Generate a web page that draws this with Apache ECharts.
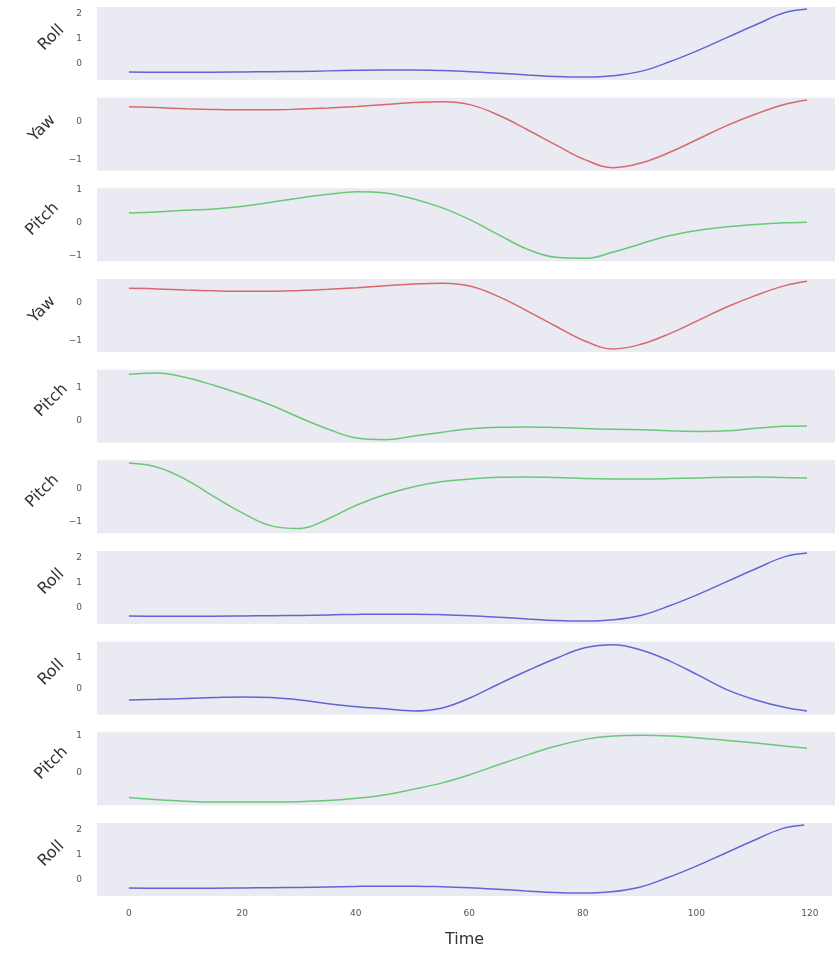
<!DOCTYPE html>
<html>
<head>
<meta charset="utf-8">
<script src="https://cdn.jsdelivr.net/npm/echarts@6/dist/echarts.min.js"></script>
<style>
  html, body { margin: 0; padding: 0; background: #fff; }
  #chart { width: 835px; height: 953px; }
</style>
</head>
<body>
<div id="chart"></div>
<script>
// sample times (x axis)
var time = [0, 5, 10, 15, 20, 25, 30, 35, 40, 45, 50, 55, 60, 65, 70, 75, 80, 85, 90, 95, 100, 105, 110, 115, 119];

// signals
var rollA = [-0.31, -0.32, -0.32, -0.32, -0.31, -0.30, -0.29, -0.27, -0.25, -0.24, -0.24, -0.26, -0.30, -0.36, -0.43, -0.49, -0.51, -0.46, -0.28, 0.10, 0.55, 1.05, 1.55, 2.02, 2.17];
var yawA = [0.39, 0.37, 0.34, 0.32, 0.31, 0.31, 0.33, 0.36, 0.40, 0.45, 0.50, 0.52, 0.44, 0.16, -0.22, -0.62, -1.00, -1.21, -1.08, -0.80, -0.45, -0.10, 0.20, 0.45, 0.57];
var pitchA = [0.30, 0.33, 0.38, 0.42, 0.50, 0.62, 0.75, 0.86, 0.94, 0.90, 0.72, 0.45, 0.08, -0.37, -0.80, -1.04, -1.07, -0.88, -0.62, -0.38, -0.22, -0.12, -0.05, 0.00, 0.02];
var pitchB = [1.42, 1.46, 1.32, 1.08, 0.80, 0.48, 0.10, -0.25, -0.52, -0.57, -0.46, -0.34, -0.24, -0.19, -0.18, -0.20, -0.23, -0.25, -0.27, -0.30, -0.32, -0.30, -0.22, -0.16, -0.15];
var pitchC = [0.79, 0.66, 0.28, -0.25, -0.75, -1.14, -1.22, -0.92, -0.50, -0.18, 0.06, 0.22, 0.30, 0.35, 0.36, 0.34, 0.31, 0.30, 0.30, 0.31, 0.33, 0.35, 0.36, 0.34, 0.33];
var rollB = [-0.38, -0.36, -0.33, -0.30, -0.28, -0.30, -0.38, -0.50, -0.60, -0.67, -0.74, -0.64, -0.30, 0.15, 0.58, 0.98, 1.32, 1.42, 1.24, 0.88, 0.42, -0.05, -0.38, -0.62, -0.74];
var pitchD = [-0.68, -0.74, -0.78, -0.80, -0.80, -0.80, -0.79, -0.76, -0.70, -0.60, -0.45, -0.28, -0.05, 0.22, 0.48, 0.72, 0.90, 0.99, 1.01, 0.99, 0.94, 0.87, 0.80, 0.72, 0.66];

var xTicks = [0, 20, 40, 60, 80, 100, 120];

var BLUE = '#6464d6', RED = '#d9686b', GREEN = '#69c878';

var panels = [
  { label: 'Roll',  values: rollA,  color: BLUE,  min: -0.63, max: 2.25 },
  { label: 'Yaw',   values: yawA,   color: RED,   min: -1.29, max: 0.63 },
  { label: 'Pitch', values: pitchA, color: GREEN, min: -1.16, max: 1.04 },
  { label: 'Yaw',   values: yawA,   color: RED,   min: -1.29, max: 0.63 },
  { label: 'Pitch', values: pitchB, color: GREEN, min: -0.66, max: 1.56 },
  { label: 'Pitch', values: pitchC, color: GREEN, min: -1.37, max: 0.87 },
  { label: 'Roll',  values: rollA,  color: BLUE,  min: -0.63, max: 2.25 },
  { label: 'Roll',  values: rollB,  color: BLUE,  min: -0.86, max: 1.52 },
  { label: 'Pitch', values: pitchD, color: GREEN, min: -0.89, max: 1.09 },
  { label: 'Roll',  values: rollA,  color: BLUE,  min: -0.63, max: 2.25 }
];

var TOP = 7, STEP = 90.67, H = 73, LEFT = 97;

function fmtNum(v) {
  if (Math.abs(v - Math.round(v)) > 1e-6) return '';
  v = Math.round(v);
  return v < 0 ? '\u2212' + Math.abs(v) : String(v);
}

var grids = [], xAxes = [], yAxes = [], series = [], texts = [];
panels.forEach(function (p, i) {
  var top = TOP + STEP * i;
  var last = i === panels.length - 1;
  grids.push({
    left: LEFT, right: 0, top: top, height: H,
    show: true, backgroundColor: '#eaeaf2', borderWidth: 0
  });
  xAxes.push({
    type: 'value', gridIndex: i, min: -5.6, max: 123.9,
    minInterval: 20, maxInterval: 20,
    axisLine: { show: false }, axisTick: { show: false }, splitLine: { show: false },
    axisLabel: {
      show: last, fontSize: 9, color: '#555', margin: 13, fontFamily: 'DejaVu Sans',
      formatter: function (v) { return xTicks.indexOf(v) >= 0 ? String(v) : ''; }
    },
    name: last ? 'Time' : '', nameLocation: 'middle', nameGap: 36,
    nameTextStyle: { fontSize: 16, color: '#333', fontFamily: 'DejaVu Sans' }
  });
  yAxes.push({
    type: 'value', gridIndex: i, min: p.min, max: p.max,
    minInterval: 1, maxInterval: 1,
    axisLine: { show: false }, axisTick: { show: false }, splitLine: { show: false },
    axisLabel: { fontSize: 9, color: '#555', margin: 15, fontFamily: 'DejaVu Sans', formatter: fmtNum }
  });
  series.push({
    type: 'line', xAxisIndex: i, yAxisIndex: i,
    data: time.map(function (t, k) { return [t, p.values[k]]; }),
    smooth: 0.4, showSymbol: false, silent: true,
    lineStyle: { color: p.color, width: 1.5 }
  });
  texts.push({
    type: 'text',
    x: p.min <= -1 ? 48 : 57,
    y: top + H / 2,
    rotation: Math.PI / 4,
    style: {
      text: p.label, fontSize: 16, fill: '#333', fontFamily: 'DejaVu Sans',
      align: 'center', verticalAlign: 'bottom'
    }
  });
});

var chart = echarts.init(document.getElementById('chart'));
chart.setOption({
  animation: false,
  backgroundColor: '#fff',
  grid: grids,
  xAxis: xAxes,
  yAxis: yAxes,
  series: series,
  graphic: texts
});
</script>
</body>
</html>
